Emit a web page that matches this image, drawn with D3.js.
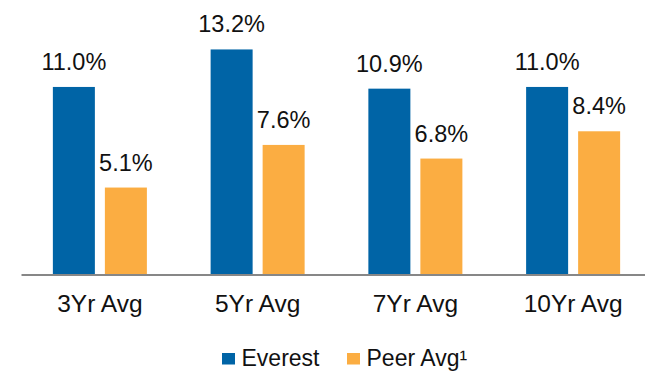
<!DOCTYPE html>
<html lang="en">
<head>
  <meta charset="UTF-8">
  <title>Everest vs Peer Avg</title>
  <style>
    body { margin: 0; background: #fff; }
    svg { display: block; font-family: "Liberation Sans", Arial, Helvetica, sans-serif; }
    .axis path { stroke: #878787; stroke-width: 2px; }
    .axis text { font-size: 24.5px; fill: #111; }
    .val { font-size: 23.5px; fill: #111; text-anchor: middle; }
    .legend text { font-size: 23px; fill: #111; }
  </style>
  <script src="https://d3js.org/d3.v7.min.js"></script>
</head>
<body>
  <svg id="chart"></svg>
  <script>
    var categories = ["3Yr Avg", "5Yr Avg", "7Yr Avg", "10Yr Avg"];
    var seriesNames = ["Everest", "Peer Avg\u00b9"];
    var everest = [11.0, 13.2, 10.9, 11.0];
    var peerAvg = [5.1, 7.6, 6.8, 8.4];
    var colors = ["#0064a6", "#fbad42"];

    var width = 645, height = 372;
    var baseY = 274.5;

    var svg = d3.select("#chart")
      .attr("width", width)
      .attr("height", height);

    var x0 = d3.scaleBand()
      .domain(categories)
      .range([21, 652])
      .paddingInner(0.404)
      .paddingOuter(0.202);

    var x1 = d3.scaleBand()
      .domain(seriesNames)
      .range([0, x0.bandwidth()])
      .paddingInner(0.1923);

    var y = d3.scaleLinear()
      .domain([0, 14])
      .range([baseY, baseY - 14 * 17.05]);

    var rows = categories.map(function(c, i) {
      return { cat: c, vals: [everest[i], peerAvg[i]] };
    });

    // bars
    var groups = svg.append("g").selectAll("g")
      .data(rows)
      .join("g")
      .attr("transform", function(d) { return "translate(" + x0(d.cat) + ",0)"; });

    groups.selectAll("rect")
      .data(function(d) { return d.vals.map(function(v, j) { return { s: seriesNames[j], v: v, j: j }; }); })
      .join("rect")
      .attr("x", function(d) { return x1(d.s); })
      .attr("width", x1.bandwidth())
      .attr("y", function(d) { return y(d.v); })
      .attr("height", function(d) { return baseY - y(d.v); })
      .attr("fill", function(d) { return colors[d.j]; });

    groups.selectAll("text")
      .data(function(d) { return d.vals.map(function(v, j) { return { s: seriesNames[j], v: v }; }); })
      .join("text")
      .attr("class", "val")
      .attr("x", function(d) { return x1(d.s) + x1.bandwidth() / 2; })
      .attr("y", function(d) { return y(d.v) - 17; })
      .text(function(d) { return d.v.toFixed(1) + "%"; });

    // x axis
    svg.append("g")
      .attr("class", "axis")
      .attr("transform", "translate(0," + baseY + ")")
      .call(d3.axisBottom(x0).tickSize(0).tickSizeOuter(0))
      .call(function(g) {
        g.selectAll("text").attr("dy", null).attr("y", 37.5);
        g.attr("font-family", null).attr("font-size", null);
      });

    // legend
    var legend = svg.append("g").attr("class", "legend");
    var legX = [222, 347];
    seriesNames.forEach(function(s, j) {
      legend.append("rect")
        .attr("x", legX[j]).attr("y", 353)
        .attr("width", 13).attr("height", 11.5)
        .attr("fill", colors[j]);
      legend.append("text")
        .attr("x", legX[j] + 19.5).attr("y", 366)
        .text(s);
    });
  </script>
</body>
</html>
